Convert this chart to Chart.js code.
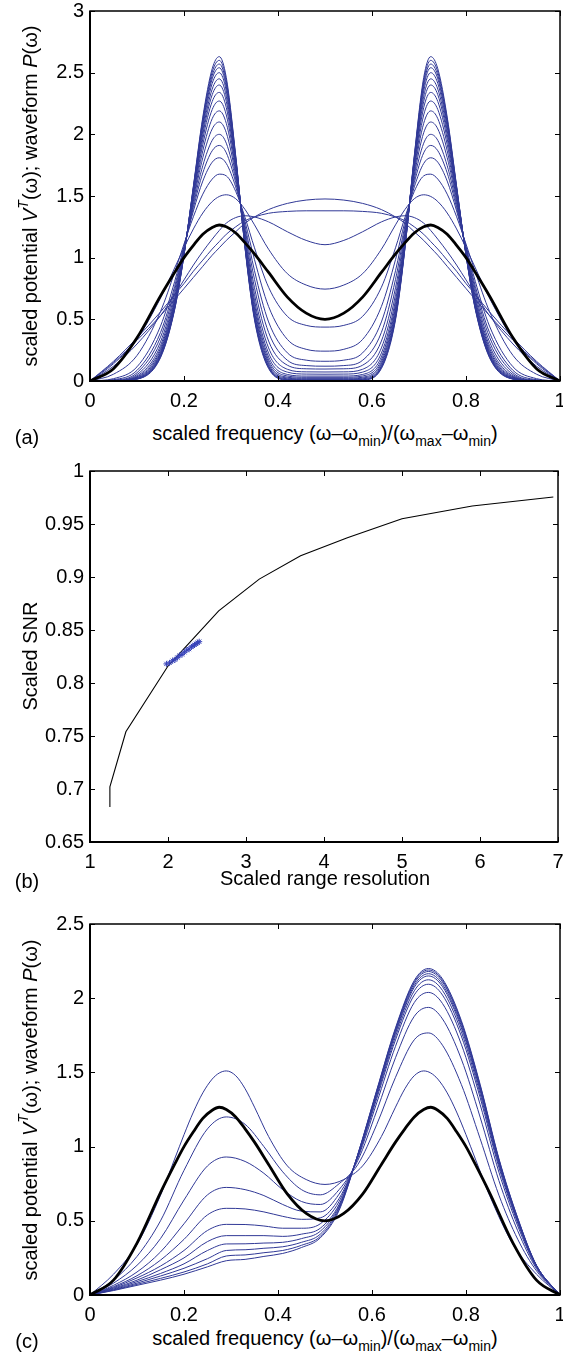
<!DOCTYPE html>
<html>
<head>
<meta charset="utf-8">
<script src="https://cdn.jsdelivr.net/npm/chart.js@4/dist/chart.umd.min.js"></script>
<style>
  html, body { margin: 0; padding: 0; background: #fff; }
  body { width: 563px; height: 1357px; position: relative; overflow: hidden;
         font-family: "Liberation Sans", Arial, Helvetica, sans-serif; color: #000; }
  .panel { position: absolute; left: 0; }
  .lbl { position: absolute; font-size: 20px; line-height: 20px; white-space: nowrap;
         transform: translate(-50%, -50%); }
  .lbl.rot { transform: translate(-50%, -50%) rotate(-90deg); }
  .lbl sub { font-size: 70%; vertical-align: -0.45em; line-height: 0; }
  .lbl sup { font-size: 70%; vertical-align: 0.65em; line-height: 0; font-style: italic; }
</style>
</head>
<body>
<div class="panel" style="top:0px"><canvas id="chartA" width="563" height="411"></canvas></div>
<div class="panel" style="top:461px"><canvas id="chartB" width="563" height="411"></canvas></div>
<div class="panel" style="top:914px"><canvas id="chartC" width="563" height="411"></canvas></div>

<div class="lbl rot" style="left:30px; top:196px">scaled potential <i>V</i><sup>T</sup>(ω); waveform <i>P</i>(ω)</div>
<div class="lbl" style="left:325px; top:433px">scaled frequency (ω–ω<sub>min</sub>)/(ω<sub>max</sub>–ω<sub>min</sub>)</div>
<div class="lbl" style="left:27px; top:437px">(a)</div>

<div class="lbl rot" style="left:29.5px; top:656px">Scaled SNR</div>
<div class="lbl" style="left:325px; top:878px">Scaled range resolution</div>
<div class="lbl" style="left:27px; top:881px">(b)</div>

<div class="lbl rot" style="left:30px; top:1110px">scaled potential <i>V</i><sup>T</sup>(ω); waveform <i>P</i>(ω)</div>
<div class="lbl" style="left:325px; top:1338px">scaled frequency (ω–ω<sub>min</sub>)/(ω<sub>max</sub>–ω<sub>min</sub>)</div>
<div class="lbl" style="left:27px; top:1341px">(c)</div>

<script>
// ---------- panel (a): frequency grid, black waveform, blue potentials ----------
const A_X = [0, 0.05, 0.1, 0.15, 0.18, 0.2, 0.22, 0.24, 0.26, 0.275, 0.29, 0.31, 0.33, 0.35, 0.38, 0.42, 0.46, 0.5,
             0.54, 0.58, 0.62, 0.65, 0.67, 0.69, 0.71, 0.725, 0.74, 0.76, 0.78, 0.8, 0.82, 0.85, 0.9, 0.95, 1];
const A_BLACK = [0,.1,.35,.69,.88,1.0,1.1,1.19,1.245,1.265,1.25,1.2,1.12,1.03,.88,.68,.55,.5,.55,.68,.88,1.03,1.12,1.2,1.25,1.265,1.245,1.19,1.1,1.0,.88,.69,.35,.1,0];
const A_B1 = [0,.15,.33,.53,.66,.75,.84,.93,1.02,1.08,1.14,1.21,1.28,1.33,1.39,1.44,1.467,1.476,1.467,1.44,1.39,1.33,1.28,1.21,1.14,1.08,1.02,.93,.84,.75,.66,.53,.33,.15,0];
const A_B2 = [0,.16,.35,.56,.7,.79,.89,.98,1.07,1.13,1.19,1.25,1.3,1.33,1.36,1.375,1.38,1.38,1.38,1.375,1.36,1.33,1.3,1.25,1.19,1.13,1.07,.98,.89,.79,.7,.56,.35,.16,0];
const A_B3 = [0,.12,.3,.53,.7,.82,.94,1.05,1.15,1.22,1.28,1.325,1.34,1.33,1.29,1.21,1.14,1.105,1.14,1.21,1.29,1.33,1.34,1.325,1.28,1.22,1.15,1.05,.94,.82,.7,.53,.3,.12,0];
const A_P1 = [0,.14,.34,.672,.916,1.08,1.233,1.362,1.455,1.496,1.51,1.478,1.39,1.266,1.068,.87,.778,.745,.778,.87,1.068,1.266,1.39,1.478,1.51,1.496,1.455,1.362,1.233,1.08,.916,.672,.34,.14,0];
const A_P2 = [0,.055,.207,.564,.881,1.111,1.332,1.515,1.637,1.677,1.663,1.538,1.325,1.08,.76,.524,.451,.437,.451,.524,.76,1.08,1.325,1.538,1.663,1.677,1.637,1.515,1.332,1.111,.881,.564,.207,.055,0];
const A_P3 = [0,.019,.115,.445,.805,1.092,1.379,1.621,1.774,1.81,1.764,1.574,1.291,.984,.604,.337,.257,.242,.257,.337,.604,.984,1.291,1.574,1.764,1.81,1.774,1.621,1.379,1.092,.805,.445,.115,.019,0];
const A_P4 = [0,.011,.086,.393,.766,1.081,1.406,1.687,1.867,1.91,1.85,1.608,1.257,.894,.479,.228,.169,.16,.169,.228,.479,.894,1.257,1.608,1.85,1.91,1.867,1.687,1.406,1.081,.766,.393,.086,.011,0];
const A_P5 = [0,.007,.067,.355,.736,1.073,1.431,1.746,1.951,2,1.928,1.638,1.228,.824,.394,.168,.125,.12,.125,.168,.394,.824,1.228,1.638,1.928,2,1.951,1.746,1.431,1.073,.736,.355,.067,.007,0];
const A_P6 = [0,.005,.052,.317,.705,1.064,1.457,1.811,2.044,2.1,2.013,1.669,1.199,.756,.324,.128,.099,.097,.099,.128,.324,.756,1.199,1.669,2.013,2.1,2.044,1.811,1.457,1.064,.705,.317,.052,.005,0];
const A_P7 = [0,.003,.041,.287,.677,1.054,1.478,1.867,2.127,2.19,2.089,1.698,1.174,.701,.268,.095,.074,.073,.074,.095,.268,.701,1.174,1.698,2.089,2.19,2.127,1.867,1.478,1.054,.677,.287,.041,.003,0];
const A_P8 = [0,.002,.034,.265,.656,1.047,1.498,1.918,2.201,2.27,2.157,1.722,1.152,.655,.226,.072,.056,.055,.056,.072,.226,.655,1.152,1.722,2.157,2.27,2.201,1.918,1.498,1.047,.656,.265,.034,.002,0];
const A_P9 = [0,.002,.029,.248,.64,1.043,1.515,1.962,2.266,2.34,2.217,1.744,1.137,.621,.195,.053,.04,.04,.04,.053,.195,.621,1.137,1.744,2.217,2.34,2.266,1.962,1.515,1.043,.64,.248,.029,.002,0];
const A_P10 = [0,.001,.025,.233,.625,1.037,1.529,1.999,2.321,2.4,2.267,1.762,1.123,.592,.171,.041,.03,.03,.03,.041,.171,.592,1.123,1.762,2.267,2.4,2.321,1.999,1.529,1.037,.625,.233,.025,.001,0];
const A_P11 = [0,.001,.022,.223,.614,1.034,1.541,2.03,2.367,2.45,2.309,1.776,1.11,.568,.152,.031,.022,.022,.022,.031,.152,.568,1.11,1.776,2.309,2.45,2.367,2.03,1.541,1.034,.614,.223,.022,.001,0];
const A_P12 = [0,.001,.02,.213,.602,1.03,1.552,2.061,2.413,2.5,2.351,1.791,1.1,.547,.137,.024,.016,.016,.016,.024,.137,.547,1.1,1.791,2.351,2.5,2.413,2.061,1.552,1.03,.602,.213,.02,.001,0];
const A_P13 = [0,.001,.018,.205,.593,1.026,1.56,2.085,2.45,2.54,2.384,1.801,1.088,.528,.124,.018,.011,.011,.011,.018,.124,.528,1.088,1.801,2.384,2.54,2.45,2.085,1.56,1.026,.593,.205,.018,.001,0];
const A_P14 = [0,.001,.017,.2,.588,1.024,1.567,2.104,2.477,2.57,2.41,1.809,1.081,.515,.115,.013,.007,.007,.007,.013,.115,.515,1.081,1.809,2.41,2.57,2.477,2.104,1.567,1.024,.588,.2,.017,.001,0];
const A_P15 = [0,.001,.016,.195,.582,1.023,1.574,2.122,2.505,2.6,2.435,1.82,1.078,.507,.108,.01,.004,.004,.004,.01,.108,.507,1.078,1.82,2.435,2.6,2.505,2.122,1.574,1.023,.582,.195,.016,.001,0];
const A_P16 = [0,.001,.015,.189,.576,1.02,1.58,2.14,2.532,2.63,2.46,1.827,1.071,.495,.101,.007,.002,.002,.002,.007,.101,.495,1.071,1.827,2.46,2.63,2.532,2.14,1.58,1.02,.576,.189,.015,.001,0];
const A_BLUE = [A_B1, A_B2, A_B3, A_P1, A_P2, A_P3, A_P4, A_P5, A_P6, A_P7, A_P8,
                A_P9, A_P10, A_P11, A_P12, A_P13, A_P14, A_P15, A_P16];

const FREQ_TICKS = [0, 0.2, 0.4, 0.6, 0.8, 1];
const FREQ_LABELS = ['0', '0.2', '0.4', '0.6', '0.8', '1'];
const A_YTICKS = [0, 0.5, 1, 1.5, 2, 2.5, 3];
const A_YLABELS = ['0', '0.5', '1', '1.5', '2', '2.5', '3'];

// ---------- panel (b): SNR vs range resolution ----------
const B_X = [1.255, 1.255, 1.46, 2.0, 2.65, 3.17, 3.7, 4.3, 5.0, 5.9, 6.94];
const B_Y = [0.683, 0.702, 0.754, 0.816, 0.868, 0.898, 0.92, 0.937, 0.955, 0.967, 0.9755];
const B_STAR_X = [1.98, 2.02, 2.06, 2.09, 2.12, 2.15, 2.18, 2.21, 2.24, 2.27, 2.3, 2.32, 2.34, 2.36, 2.38, 2.4];
const B_STAR_Y = [0.818, 0.819, 0.821, 0.822, 0.824, 0.826, 0.827, 0.829, 0.831, 0.832, 0.834, 0.835, 0.836, 0.837, 0.838, 0.839];
const B_XTICKS = [1, 2, 3, 4, 5, 6, 7];
const B_XLABELS = ['1', '2', '3', '4', '5', '6', '7'];
const B_YTICKS = [0.65, 0.7, 0.75, 0.8, 0.85, 0.9, 0.95, 1];
const B_YLABELS = ['0.65', '0.7', '0.75', '0.8', '0.85', '0.9', '0.95', '1'];

// ---------- panel (c): asymmetric potentials (first blue one is A_P1) ----------
const C_X = [0, 0.05, 0.1, 0.15, 0.2, 0.25, 0.29, 0.33, 0.37, 0.41, 0.45, 0.49, 0.53,
             0.57, 0.61, 0.65, 0.69, 0.72, 0.75, 0.79, 0.83, 0.87, 0.91, 0.95, 1];
const C_1 = [0,.1,.26,.5,.84,1.12,1.2,1.15,1.0,.83,.71,.675,.75,.88,1.148,1.467,1.72,1.766,1.683,1.419,1.054,.673,.376,.163,0];
const C_2 = [0,.08,.2,.38,.64,.87,.93,.9,.82,.71,.63,.61,.71,.908,1.24,1.599,1.878,1.938,1.86,1.59,1.199,.771,.433,.177,0];
const C_3 = [0,.065,.155,.29,.48,.675,.725,.71,.67,.61,.565,.56,.68,.924,1.294,1.676,1.971,2.039,1.964,1.69,1.284,.828,.466,.186,0];
const C_4 = [0,.056,.13,.235,.375,.54,.584,.58,.56,.53,.51,.52,.65,.933,1.323,1.719,2.022,2.094,2.021,1.745,1.331,.86,.485,.191,0];
const C_5 = [0,.05,.115,.195,.3,.435,.476,.475,.465,.45,.45,.48,.63,.938,1.339,1.742,2.05,2.124,2.052,1.775,1.356,.877,.495,.193,0];
const C_6 = [0,.045,.1,.17,.25,.36,.4,.4,.4,.395,.41,.45,.61,.942,1.353,1.762,2.074,2.15,2.078,1.8,1.378,.891,.503,.196,0];
const C_7 = [0,.04,.09,.145,.21,.3,.344,.345,.35,.355,.38,.43,.6,.944,1.361,1.773,2.087,2.165,2.093,1.815,1.39,.9,.508,.197,0];
const C_8 = [0,.036,.08,.128,.18,.245,.3,.305,.315,.325,.355,.41,.59,.947,1.369,1.785,2.101,2.18,2.109,1.83,1.403,.909,.513,.198,0];
const C_9 = [0,.033,.072,.112,.155,.21,.263,.27,.285,.3,.335,.395,.58,.948,1.375,1.793,2.111,2.19,2.12,1.84,1.412,.914,.517,.199,0];
const C_10 = [0,.03,.065,.1,.14,.19,.231,.24,.26,.28,.32,.385,.57,.95,1.38,1.8,2.12,2.2,2.13,1.85,1.42,.92,.52,.2,0];
const C_BLUE = [C_1, C_2, C_3, C_4, C_5, C_6, C_7, C_8, C_9, C_10];
const C_YTICKS = [0, 0.5, 1, 1.5, 2, 2.5];
const C_YLABELS = ['0', '0.5', '1', '1.5', '2', '2.5'];

const FONT = '"Liberation Sans", Arial, Helvetica, sans-serif';
const BLUE = 'rgb(48,56,150)';
const STAR_BLUE = 'rgb(55,66,185)';
const TICK = 5;

function pts(xs, ys) {
    return xs.map((x, i) => ({ x: x, y: ys[i] }));
}

function curve(xs, ys, color, width) {
    return { data: pts(xs, ys), borderColor: color, borderWidth: width, pointRadius: 0,
             fill: false, cubicInterpolationMode: 'monotone' };
}

// matlab style box with inward ticks on all four sides
const frame = {
    id: 'frame',
    afterDraw(chart) {
        const { ctx, chartArea: a } = chart;
        const x = chart.scales.x, y = chart.scales.y;
        ctx.save();
        ctx.strokeStyle = '#000';
        ctx.lineWidth = 1;
        ctx.beginPath();
        x.ticks.forEach(t => {
            const p = Math.round(x.getPixelForValue(t.value)) + 0.5;
            ctx.moveTo(p, a.bottom); ctx.lineTo(p, a.bottom - TICK);
            ctx.moveTo(p, a.top); ctx.lineTo(p, a.top + TICK);
        });
        y.ticks.forEach(t => {
            const p = Math.round(y.getPixelForValue(t.value)) + 0.5;
            ctx.moveTo(a.left, p); ctx.lineTo(a.left + TICK, p);
            ctx.moveTo(a.right, p); ctx.lineTo(a.right - TICK, p);
        });
        ctx.stroke();
        ctx.lineWidth = 1.5;
        ctx.strokeRect(a.left, a.top, a.right - a.left, a.bottom - a.top);
        ctx.lineWidth = 2;
        ctx.beginPath();
        ctx.moveTo(a.left, a.top); ctx.lineTo(a.left, a.bottom); ctx.lineTo(a.right, a.bottom);
        ctx.stroke();
        ctx.restore();
    }
};

function axis(min, max, ticks, labels, isX) {
    return {
        type: 'linear', min: min, max: max,
        grid: { display: false, drawTicks: false },
        border: { display: false },
        ticks: { autoSkip: false, maxRotation: 0, padding: isX ? 8 : 6, color: '#000',
                 font: { family: FONT, size: 20 }, callback: (v, i) => labels[i] },
        afterBuildTicks: s => { s.ticks = ticks.map(v => ({ value: v })); },
        afterFit: s => {
            if (isX) { s.height = 30; s.paddingLeft = 0; s.paddingRight = 0; }
            else { s.width = 90; s.paddingTop = 0; s.paddingBottom = 0; }
        }
    };
}

function makeChart(id, datasets, xAxis, yAxis, topPad) {
    return new Chart(document.getElementById(id), {
        type: 'line',
        data: { datasets: datasets },
        plugins: [frame],
        options: {
            responsive: false, animation: false, events: [],
            layout: { padding: { top: topPad, right: 3, left: 0, bottom: 0 } },
            plugins: { legend: { display: false }, tooltip: { enabled: false } },
            scales: { x: xAxis, y: yAxis }
        }
    });
}

// (a) black drawn on top: dataset 0 is painted last
const dsA = [curve(A_X, A_BLACK, '#000', 2.8)].concat(A_BLUE.map(c => curve(A_X, c, BLUE, 1)));
makeChart('chartA', dsA, axis(0, 1, FREQ_TICKS, FREQ_LABELS, true), axis(0, 3, A_YTICKS, A_YLABELS, false), 11);

// (b)
const dsB = [
    { data: pts(B_STAR_X, B_STAR_Y), showLine: false, pointStyle: 'star', pointRadius: 3,
      borderColor: STAR_BLUE, borderWidth: 1, backgroundColor: STAR_BLUE },
    { data: pts(B_X, B_Y), borderColor: '#000', borderWidth: 1.1, pointRadius: 0, tension: 0, fill: false }
];
makeChart('chartB', dsB, axis(1, 7, B_XTICKS, B_XLABELS, true), axis(0.65, 1, B_YTICKS, B_YLABELS, false), 10);

// (c)
const dsC = [curve(A_X, A_BLACK, '#000', 2.8), curve(A_X, A_P1, BLUE, 1)]
    .concat(C_BLUE.map(c => curve(C_X, c, BLUE, 1)));
makeChart('chartC', dsC, axis(0, 1, FREQ_TICKS, FREQ_LABELS, true), axis(0, 2.5, C_YTICKS, C_YLABELS, false), 10);
</script>
</body>
</html>
